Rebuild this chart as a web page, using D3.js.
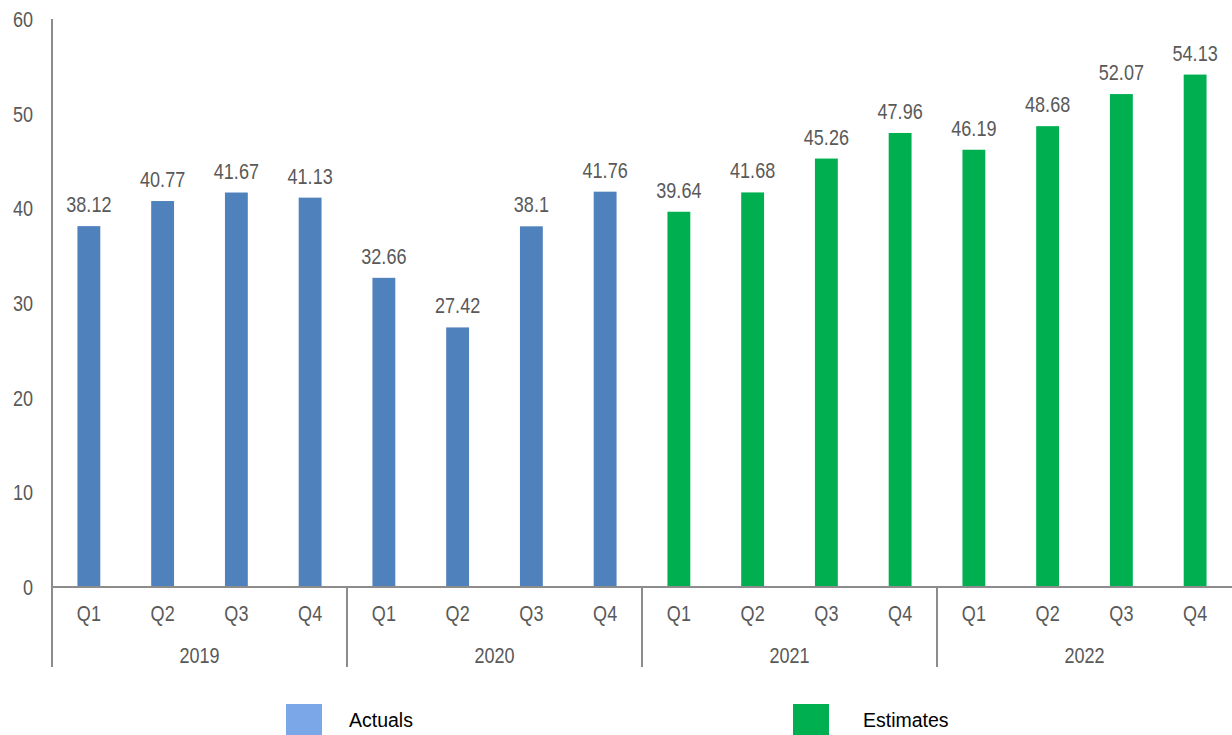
<!DOCTYPE html>
<html><head><meta charset="utf-8">
<script src="https://cdn.jsdelivr.net/npm/d3@7"></script>
<style>body{margin:0;background:#fff;} svg{display:block;}</style>
</head><body>
<script>
const years = ["2019","2020","2021","2022"];
const quarters = ["Q1","Q2","Q3","Q4"];
const values = [38.12,40.77,41.67,41.13, 32.66,27.42,38.1,41.76, 39.64,41.68,45.26,47.96, 46.19,48.68,52.07,54.13];
const seriesType = ["Actuals","Actuals","Actuals","Actuals","Actuals","Actuals","Actuals","Actuals",
  "Estimates","Estimates","Estimates","Estimates","Estimates","Estimates","Estimates","Estimates"];
const yTicks = [0,10,20,30,40,50,60];
const legendItems = ["Actuals","Estimates"];

const W=1232,H=735;
const font = "'Liberation Sans Narrow','Arial Narrow','Liberation Sans',sans-serif";
const FS = 22, SX = 0.82;
const svg = d3.select("body").append("svg").attr("width",W).attr("height",H);
const x0=52,x1=1232,yTop=19,yBot=587;
const keys = values.map((v,i)=>i);
const x = d3.scaleBand().domain(keys).range([x0,x1]).paddingInner(0.69).paddingOuter(0.345);
const y = d3.scaleLinear().domain([0,60]).range([yBot,yTop]);
const barColor = {Actuals:"#4F81BD",Estimates:"#00B050"};
const legColor = {Actuals:"#7BA7E8",Estimates:"#00B050"};
const grey="#8c8c8c", txt="#595959";

function narrowText(sel, data, cls, fx, fy, anchor, fill, fn){
  return sel.selectAll("text."+cls).data(data).join("text").attr("class",cls)
    .attr("transform",(d,i)=>`translate(${fx(d,i)},${fy(d,i)}) scale(${SX},1)`)
    .attr("text-anchor",anchor).attr("font-family",font).attr("font-size",FS).attr("fill",fill)
    .text(fn);
}

// y axis (scale-driven tick labels)
narrowText(svg, yTicks, "ytick", ()=>33, d=>y(d)+8, "end", txt, d=>d);
svg.append("line").attr("x1",x0).attr("x2",x0).attr("y1",yTop).attr("y2",667).attr("stroke",grey).attr("stroke-width",2);

// bars
svg.selectAll("rect.bar").data(keys).join("rect").attr("class","bar")
  .attr("x",i=>x(i)).attr("width",x.bandwidth())
  .attr("y",i=>y(values[i])).attr("height",i=>y(0)-y(values[i]))
  .attr("fill",i=>barColor[seriesType[i]]);
narrowText(svg, keys, "val", i=>x(i)+x.bandwidth()/2, i=>y(values[i])-14, "middle", txt, i=>values[i]);

// x axis
svg.append("line").attr("x1",x0).attr("x2",x1).attr("y1",yBot).attr("y2",yBot).attr("stroke",grey).attr("stroke-width",2);
narrowText(svg, keys, "q", i=>x(i)+x.bandwidth()/2, ()=>621, "middle", txt, i=>quarters[i%4]);
const gx = d3.scaleBand().domain(years).range([x0,x1]);
svg.selectAll("line.sep").data(years.slice(1)).join("line").attr("class","sep")
  .attr("x1",d=>gx(d)).attr("x2",d=>gx(d)).attr("y1",yBot).attr("y2",667).attr("stroke",grey).attr("stroke-width",2);
narrowText(svg, years, "yr", d=>gx(d)+gx.bandwidth()/2, ()=>663, "middle", txt, d=>d);

// legend
const legX = {Actuals:286, Estimates:793};
const legTextOff = {Actuals:63, Estimates:70};
const lg = svg.selectAll("g.leg").data(legendItems).join("g").attr("class","leg")
  .attr("transform",d=>`translate(${legX[d]},704)`);
lg.append("rect").attr("width",36).attr("height",31).attr("fill",d=>legColor[d]);
lg.append("text").attr("x",d=>legTextOff[d]).attr("y",23).attr("font-family","'Liberation Sans',Arial,sans-serif").attr("font-size",19.5).attr("fill","#000").text(d=>d);
</script>
</body></html>
